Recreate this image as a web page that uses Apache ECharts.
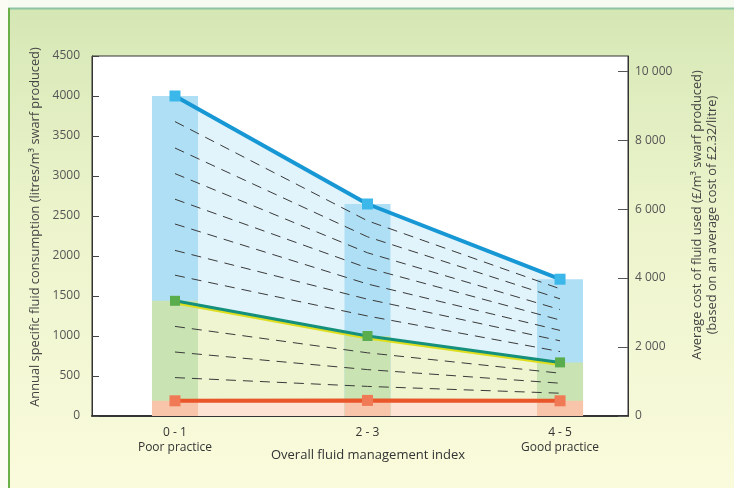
<!DOCTYPE html>
<html>
<head>
<meta charset="utf-8">
<script src="https://cdn.jsdelivr.net/npm/echarts@6/dist/echarts.min.js"></script>
<style>html,body{margin:0;padding:0;background:#fff}#c{width:734px;height:488px}</style>
</head>
<body>
<div id="c"></div>
<script>
// ---- data ----
const categories = ['0 - 1', '2 - 3', '4 - 5'];
const categorySubs = ['Poor practice', '', 'Good practice'];
const blueValues = [4000, 2650, 1710];   // top line
const greenValues = [1440, 1000, 670];   // middle line
const redValues = [190, 195, 190];       // bottom line
// dashed guide lines between the green and blue lines (top to bottom)
const dashedUpper = [
  [3680, 2440, 1590],
  [3350, 2240, 1465],
  [3030, 2040, 1330],
  [2710, 1850, 1200],
  [2400, 1650, 1070],
  [2070, 1460, 940],
  [1760, 1250, 805]
];
// dashed guide lines between the red and green lines (top to bottom)
const dashedLower = [
  [1120, 790, 535],
  [800, 580, 410],
  [480, 370, 285]
];
const leftTicks = {min: 0, max: 4500, interval: 500};
const rightTicks = [0, 2000, 4000, 6000, 8000, 10000];
const costPerLitre = 2.32;

const xs = categories.map((c, i) => i);
const pts = arr => arr.map((v, i) => [xs[i], v]);

const series = [];
// area fills (lighter tones)
series.push({type: 'line', data: pts(blueValues), symbol: 'none', silent: true, z: 1,
  lineStyle: {width: 0, opacity: 0}, areaStyle: {color: '#e1f3fb', opacity: 1}});
series.push({type: 'line', data: pts(greenValues), symbol: 'none', silent: true, z: 2,
  lineStyle: {width: 0, opacity: 0}, areaStyle: {color: '#eef5d0', opacity: 1}});
series.push({type: 'line', data: pts(redValues), symbol: 'none', silent: true, z: 3,
  lineStyle: {width: 0, opacity: 0}, areaStyle: {color: '#fde3d3', opacity: 1}});
// bars (overlapping, tallest drawn first)
series.push({type: 'bar', barWidth: 46, barGap: '-100%', z: 4, silent: true,
  data: pts(blueValues), itemStyle: {color: '#afdff5'}});
series.push({type: 'bar', barWidth: 46, barGap: '-100%', z: 4, silent: true,
  data: pts(greenValues), itemStyle: {color: '#c9e4b2'}});
series.push({type: 'bar', barWidth: 46, barGap: '-100%', z: 4, silent: true,
  data: pts(redValues), itemStyle: {color: '#f8c5ab'}});
// dashed guides
dashedUpper.concat(dashedLower).forEach(d => {
  series.push({type: 'line', data: pts(d), symbol: 'none', silent: true, z: 5,
    lineStyle: {color: '#3a3a3a', width: 1, type: [10, 7]}});
});
// main lines
series.push({type: 'line', data: pts(redValues), z: 6, symbol: 'rect', symbolSize: 11,
  lineStyle: {color: '#e9562a', width: 4}, itemStyle: {color: '#f07a55'}});
series.push({type: 'line', data: pts(greenValues), z: 7, symbol: 'rect', symbolSize: 10,
  lineStyle: {color: '#15907c', width: 3, shadowColor: '#dede1e', shadowOffsetY: 2, shadowBlur: 0},
  itemStyle: {color: '#5aad4c'}});
series.push({type: 'line', data: pts(blueValues), z: 8, symbol: 'rect', symbolSize: 11,
  lineStyle: {color: '#1798d5', width: 4}, itemStyle: {color: '#3cb7ea'}});

const font = '"Open Sans", Lato, sans-serif';
const chart = echarts.init(document.getElementById('c'), null, {renderer: 'canvas'});
chart.setOption({
  animation: false,
  backgroundColor: {type: 'linear', x: 0, y: 0, x2: 0, y2: 1, colorStops: [
    {offset: 0, color: '#d3e6b2'}, {offset: 0.12, color: '#dcebbb'},
    {offset: 0.45, color: '#ecf4cc'}, {offset: 1, color: '#fafbdc'}]},
  graphic: [
    {type: 'rect', shape: {x: 0, y: 0, width: 734, height: 8}, style: {fill: '#f7faf0'}},
    {type: 'rect', shape: {x: 0, y: 0, width: 8, height: 488}, style: {fill: '#fbfcf4'}},
    {type: 'line', shape: {x1: 8, y1: 8.5, x2: 734, y2: 8.5}, style: {stroke: '#8cc4a4', lineWidth: 2}},
    {type: 'line', shape: {x1: 9, y1: 8, x2: 9, y2: 488}, style: {stroke: '#6aaf48', lineWidth: 2}}
  ],
  grid: {left: 92, right: 106, top: 56, bottom: 72, show: true, backgroundColor: '#ffffff',
    borderColor: '#333', borderWidth: 1},
  xAxis: {
    type: 'value', min: -0.431, max: 2.353,
    axisLine: {show: true, onZero: false, lineStyle: {color: '#333', width: 2}},
    axisTick: {show: false, customValues: xs},
    splitLine: {show: false},
    axisLabel: {customValues: xs, color: '#333', fontFamily: font, fontSize: 12, margin: 9, lineHeight: 15,
      formatter: v => { const i = Math.round(v); return categorySubs[i] ? categories[i] + '\n' + categorySubs[i] : categories[i]; }},
    name: 'Overall fluid management index', nameLocation: 'middle', nameGap: 33, nameMoveOverlap: false,
    nameTextStyle: {color: '#333', fontFamily: font, fontSize: 13, padding: [0, 0, 0, 16]}
  },
  yAxis: [
    {type: 'value', min: leftTicks.min, max: leftTicks.max, interval: leftTicks.interval,
      axisLine: {show: true, onZero: false, lineStyle: {color: '#333', width: 1}},
      axisTick: {show: true, inside: true, length: 7, lineStyle: {color: '#444'}},
      splitLine: {show: false},
      axisLabel: {color: '#555', fontFamily: font, fontSize: 12, margin: 12, formatter: v => String(v)},
      name: 'Annual specific fluid consumption (litres/m³ swarf produced)',
      nameLocation: 'middle', nameGap: 50,
      nameTextStyle: {color: '#444', fontFamily: font, fontSize: 12.8, padding: [0, 0, 0, 18]}},
    {type: 'value', position: 'right', min: 0, max: leftTicks.max * costPerLitre,
      axisLine: {show: true, onZero: false, lineStyle: {color: '#333', width: 1}},
      axisTick: {show: true, inside: true, length: 10, customValues: rightTicks, lineStyle: {color: '#555'}},
      splitLine: {show: false},
      axisLabel: {customValues: rightTicks, color: '#555', fontFamily: font, fontSize: 12, margin: 7,
        formatter: v => String(v).replace(/\B(?=(\d{3})+(?!\d))/g, ' ')},
      name: 'Average cost of fluid used (£/m³ swarf produced)\n(based on an average cost of £2.32/litre)',
      nameLocation: 'middle', nameGap: 62,
      nameTextStyle: {color: '#444', fontFamily: font, fontSize: 12.8, lineHeight: 15, align: 'center', padding: [0, 0, 0, 42]}}
  ],
  series: series
});
</script>
</body>
</html>
